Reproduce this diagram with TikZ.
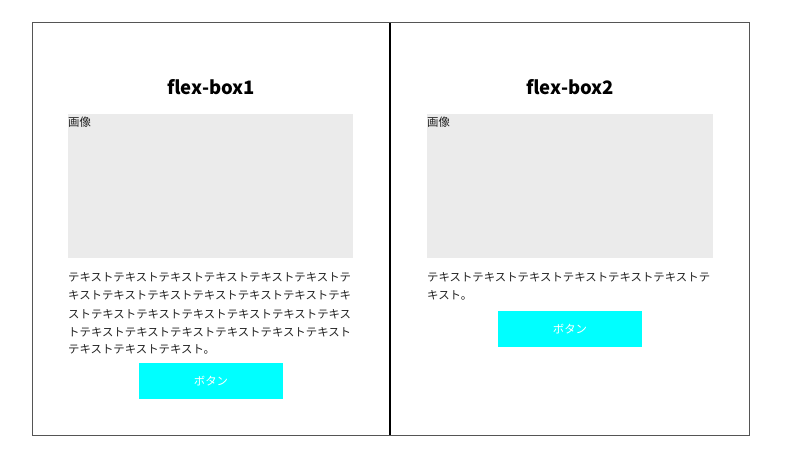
\documentclass[tikz,border=0pt]{standalone}
\usepackage{fontspec}
\newfontfamily\jp{Noto Sans CJK JP}
\definecolor{imggray}{HTML}{EBEBEB}
\definecolor{txt}{HTML}{222222}
\definecolor{frame}{HTML}{555555}
\definecolor{aqua}{HTML}{00FFFF}
\tikzset{
  panel/.style={draw=frame, line width=1pt},
  imgbox/.style={fill=imggray, draw=none},
  title/.style={font=\jp\bfseries\fontsize{18.5}{22}\selectfont, text=black, inner sep=0pt},
  body/.style={font=\jp\fontsize{11.4}{14}\selectfont, text=txt, inner sep=0pt, anchor=west},
  btn/.style={fill=aqua, draw=none},
  btntext/.style={font=\jp\fontsize{11.4}{14}\selectfont, text=white, inner sep=0pt},
  imglabel/.style={font=\jp\fontsize{11.4}{14}\selectfont, text=txt, inner sep=0pt, anchor=west}
}
\begin{document}
\begin{tikzpicture}[x=1pt,y=-1pt]
\useasboundingbox (0,0) rectangle (800,473);
% panels
\draw[panel] (32,23) rectangle (390,435);
\draw[panel] (390,23) rectangle (749,435);
\draw[line width=2pt, draw=black] (390,23) -- (390,435);
% left panel
\node[title] (title1) at (211,87) {flex-box1};
\fill[imgbox] (68,114) rectangle (353,258);
\node[imglabel] (img1) at (68,122) {画像};
\node[body] (l1a) at (68,277) {テキストテキストテキストテキストテキストテキストテ};
\node[body] (l1b) at (68,295.5) {キストテキストテキストテキストテキストテキストテキ};
\node[body] (l1c) at (68,314) {ストテキストテキストテキストテキストテキストテキス};
\node[body] (l1d) at (68,332.5) {トテキストテキストテキストテキストテキストテキスト};
\node[body] (l1e) at (68,349) {テキストテキストテキスト。};
\fill[btn] (139,363) rectangle (283,399);
\node[btntext] (b1) at (211,381) {ボタン};
% right panel
\node[title] (title2) at (570,87) {flex-box2};
\fill[imgbox] (427,114) rectangle (713,258);
\node[imglabel] (img2) at (427,122) {画像};
\node[body] (l2a) at (427,277) {テキストテキストテキストテキストテキストテキストテ};
\node[body] (l2b) at (427,295.5) {キスト。};
\fill[btn] (498,311) rectangle (642,347);
\node[btntext] (b2) at (570,329) {ボタン};
\end{tikzpicture}
\end{document}
